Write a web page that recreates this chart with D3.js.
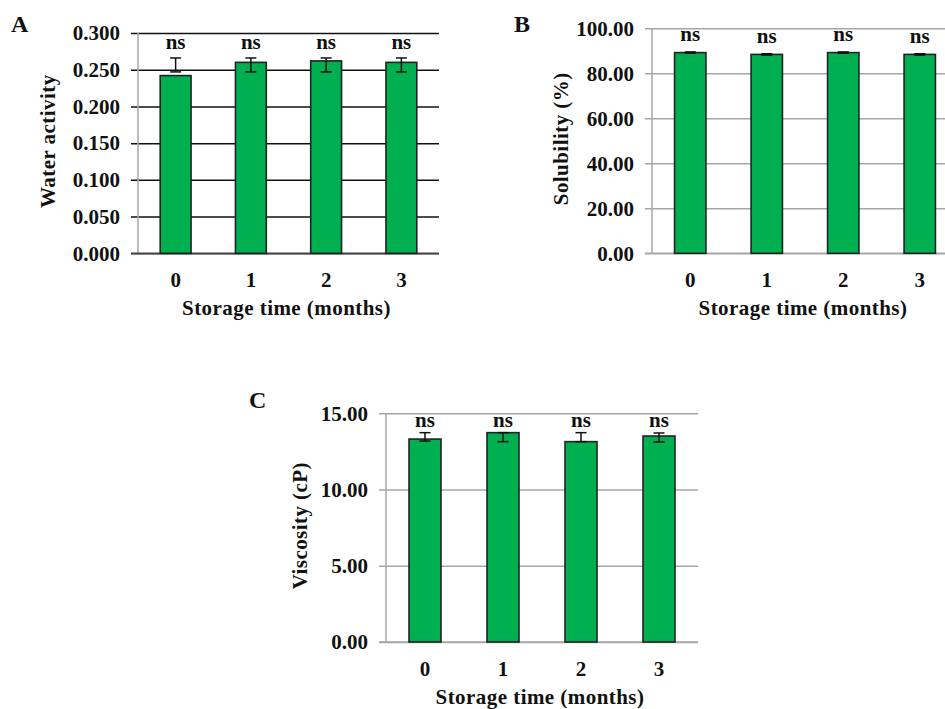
<!DOCTYPE html>
<html>
<head>
<meta charset="utf-8">
<script src="https://cdn.jsdelivr.net/npm/d3@7"></script>
<style>
  html, body { margin: 0; padding: 0; background: #fff; }
  svg { display: block; }
  text { font-family: "Liberation Serif", "Times New Roman", serif; font-weight: bold; fill: #111; }
</style>
</head>
<body>
<svg id="chart" width="945" height="709"></svg>
<script>
// ---------- data ----------
const categories = ["0", "1", "2", "3"];
const xTitle = "Storage time (months)";

const waterActivity = [0.242, 0.260, 0.262, 0.260];
const waterErrLow   = [0.247, 0.247, 0.247, 0.247];
const waterErrHigh  = [0.266, 0.266, 0.266, 0.266];
const waterTicks    = [0, 0.05, 0.10, 0.15, 0.20, 0.25, 0.30];

const solubility    = [89.2, 88.4, 89.2, 88.4];
const solErrLow     = [88.9, 88.1, 88.9, 88.1];
const solErrHigh    = [89.5, 88.7, 89.5, 88.7];
const solTicks      = [0, 20, 40, 60, 80, 100];

const viscosity     = [13.31, 13.73, 13.14, 13.51];
const viscErrLow    = [13.18, 13.14, 13.14, 13.12];
const viscErrHigh   = [13.73, 13.73, 13.73, 13.71];
const viscTicks     = [0, 5, 10, 15];

const sigLabels     = ["ns", "ns", "ns", "ns"];

// ---------- drawing ----------
const svg = d3.select("#chart");

function panel(opt) {
  const g = svg.append("g");
  const W = opt.right - opt.left;

  const x = d3.scaleBand().domain(categories)
    .range([opt.left, opt.right]).paddingInner(0.59).paddingOuter(0.295);
  const y = d3.scaleLinear().domain([0, opt.max]).range([opt.bottom, opt.top]);

  // gridlines + y tick labels
  const ya = g.append("g").attr("transform", `translate(${opt.left},0)`)
    .call(d3.axisLeft(y).tickValues(opt.ticks).tickFormat(d3.format(opt.fmt))
      .tickSize(-W).tickPadding(18));
  ya.select(".domain").remove();
  ya.selectAll(".tick line").attr("x1", -7)
    .attr("stroke", opt.gridColor).attr("stroke-width", 1.5);
  ya.selectAll(".tick text").style("font-size", "21px").attr("fill", "#111");

  // axis lines
  g.append("line").attr("x1", opt.left).attr("x2", opt.left)
    .attr("y1", opt.top).attr("y2", opt.bottom)
    .attr("stroke", "#a6a6a6").attr("stroke-width", 1.5);
  g.append("line").attr("x1", opt.left - 7).attr("x2", opt.right)
    .attr("y1", opt.bottom).attr("y2", opt.bottom)
    .attr("stroke", opt.baseColor).attr("stroke-width", 1.5);

  // x axis labels
  const xa = g.append("g").attr("transform", `translate(0,${opt.bottom})`)
    .call(d3.axisBottom(x).tickSize(0).tickPadding(19));
  xa.select(".domain").remove();
  xa.selectAll(".tick text").style("font-size", "21px").attr("fill", "#111");

  // bars
  g.selectAll("rect.bar").data(opt.values).join("rect")
    .attr("class", "bar")
    .attr("x", (d, i) => x(categories[i]))
    .attr("width", x.bandwidth())
    .attr("y", d => y(d))
    .attr("height", d => y(0) - y(d))
    .attr("fill", "#00b050")
    .attr("stroke", "#222").attr("stroke-width", 1.6);

  // error bars + significance labels
  const cap = 5.5;
  opt.values.forEach((v, i) => {
    const cx = x(categories[i]) + x.bandwidth() / 2;
    const y1 = y(opt.errHigh[i]), y2 = y(opt.errLow[i]);
    g.append("line").attr("x1", cx).attr("x2", cx).attr("y1", y1).attr("y2", y2)
      .attr("stroke", "#111").attr("stroke-width", 1.5);
    [y1, y2].forEach(yy => g.append("line")
      .attr("x1", cx - cap).attr("x2", cx + cap).attr("y1", yy).attr("y2", yy)
      .attr("stroke", "#111").attr("stroke-width", 1.5));
    g.append("text").attr("x", cx).attr("y", Math.min(y1, y(v)) - opt.nsGap)
      .attr("text-anchor", "middle").style("font-size", "21px")
      .text(sigLabels[i]);
  });

  // axis titles
  g.append("text").attr("x", (opt.left + opt.right) / 2 - 2).attr("y", opt.bottom + 62)
    .attr("text-anchor", "middle").style("font-size", "21px")
    .style("letter-spacing", "0.45px").text(xTitle);
  g.append("text")
    .attr("transform", `translate(${opt.left - opt.yTitleOff},${(opt.top + opt.bottom) / 2 - 2}) rotate(-90)`)
    .attr("text-anchor", "middle").style("font-size", "21px")
    .style("letter-spacing", "0.45px").text(opt.yTitle);

  // panel letter
  g.append("text").attr("x", opt.letterX).attr("y", opt.letterY)
    .style("font-size", "24px").text(opt.letter);
}

panel({ letter: "A", letterX: 11, letterY: 32,
  left: 138, right: 439, top: 33, bottom: 253.3, max: 0.3,
  values: waterActivity, errLow: waterErrLow, errHigh: waterErrHigh,
  ticks: waterTicks, fmt: ".3f", yTitle: "Water activity", yTitleOff: 83,
  gridColor: "#111", baseColor: "#444", nsGap: 9 });

panel({ letter: "B", letterX: 514, letterY: 32,
  left: 652, right: 958, top: 28.3, bottom: 253.3, max: 100,
  values: solubility, errLow: solErrLow, errHigh: solErrHigh,
  ticks: solTicks, fmt: ".2f", yTitle: "Solubility (%)", yTitleOff: 84,
  gridColor: "#a6a6a6", baseColor: "#a6a6a6", nsGap: 11 });

panel({ letter: "C", letterX: 249, letterY: 408,
  left: 386, right: 698, top: 413.3, bottom: 642, max: 15,
  values: viscosity, errLow: viscErrLow, errHigh: viscErrHigh,
  ticks: viscTicks, fmt: ".2f", yTitle: "Viscosity (cP)", yTitleOff: 79,
  gridColor: "#a6a6a6", baseColor: "#a6a6a6", nsGap: 6 });
</script>
</body>
</html>
